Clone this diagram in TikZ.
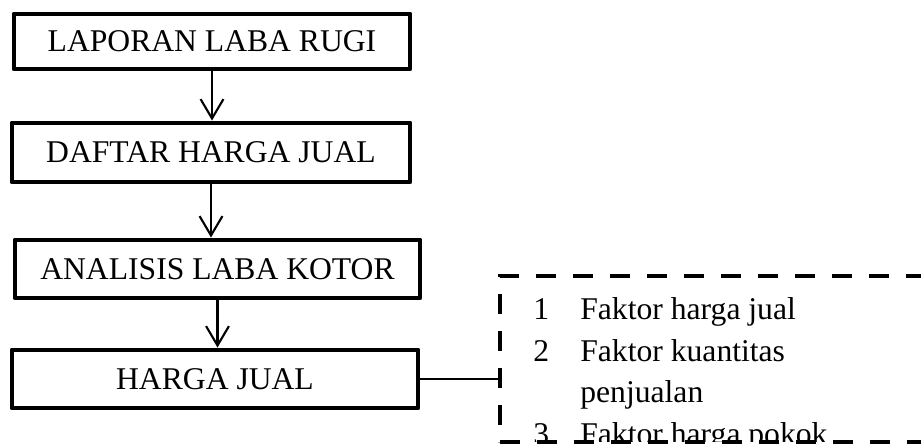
\documentclass[tikz,border=0pt]{standalone}
\usepackage{fontspec}
\setmainfont{Liberation Serif}
\usepackage{tikz}
\usetikzlibrary{arrows.meta, positioning, calc}

\begin{document}
\begin{tikzpicture}[>={Straight Barb[length=11pt,width=13pt]},
  flowbox/.style={draw, line width=2.8pt, line join=round, inner sep=0pt,
    font=\fontsize{18}{21.6}\selectfont},
  listbox/.style={draw, line width=2.8pt, dash pattern=on 0.4cm off 0.34cm,
    inner sep=0pt, minimum width=10cm, minimum height=3.32cm},
  listline/.style={anchor=base west, inner sep=0pt, font=\fontsize{18}{21.6}\selectfont},
  flowarrow/.style={->, line width=1.2pt}]
  \useasboundingbox (0,0) rectangle (18.42,-8.96);

  % Flow boxes
  \node[flowbox, minimum width=7.92cm, minimum height=1.10cm] (laporan) at (4.24,-0.83) {LAPORAN LABA RUGI};
  \node[flowbox, minimum width=7.96cm, minimum height=1.18cm] (daftar) at (4.22,-3.05) {DAFTAR HARGA JUAL};
  \node[flowbox, minimum width=8.10cm, minimum height=1.16cm] (analisis) at (4.35,-5.38) {ANALISIS LABA KOTOR};
  \node[flowbox, minimum width=8.12cm, minimum height=1.16cm] (harga) at (4.30,-7.58) {HARGA JUAL};

  % Arrows down the chain
  \draw[flowarrow] (laporan.south) -- (laporan.south |- daftar.north);
  \draw[flowarrow] (daftar.south) -- (daftar.south |- analisis.north);
  \draw[flowarrow] (analisis.south) -- (analisis.south |- harga.north);

  % Factor list
  \node[listbox] (faktor) at (15,-7.18) {};
  \begin{scope}
    \clip (faktor.north west) rectangle ([yshift=0.05cm]faktor.south east);
    \node[listline] (f1) at (10.66,-6.40) {\makebox[0.94cm][l]{1}Faktor harga jual};
    \node[listline] (f2) at (10.66,-7.23) {\makebox[0.94cm][l]{2}Faktor kuantitas};
    \node[listline] (f2b) at (10.66,-8.06) {\makebox[0.94cm][l]{}penjualan};
    \node[listline] (f3) at (10.66,-8.89) {\makebox[0.94cm][l]{3}Faktor harga pokok};
  \end{scope}

  % Link to the list
  \draw[line width=0.8pt] (harga.east) -- (harga.east -| faktor.west);
\end{tikzpicture}
\end{document}
